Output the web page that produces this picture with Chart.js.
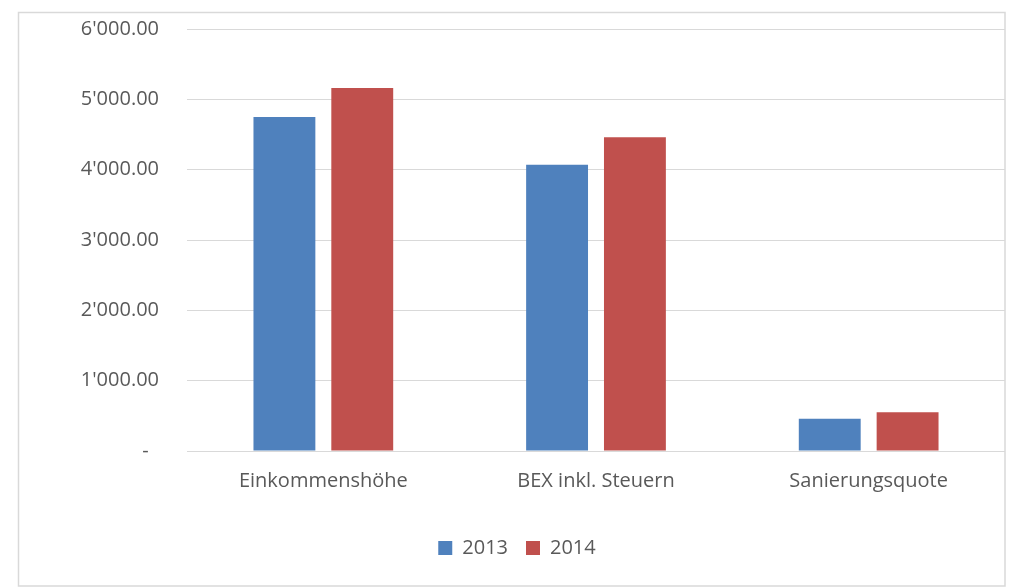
<!DOCTYPE html>
<html>
<head>
<meta charset="utf-8">
<script src="https://cdn.jsdelivr.net/npm/chart.js@4/dist/chart.umd.min.js"></script>
<style>
  html, body { margin: 0; padding: 0; background: #fff; }
  #wrap { width: 1023px; height: 588px; }
</style>
</head>
<body>
<div id="wrap"><canvas id="grafica" width="1023" height="588"></canvas></div>
<script>
// Kategorien und Werte
const kategorien = ['Einkommenshöhe', 'BEX inkl. Steuern', 'Sanierungsquote'];
const werte2013 = [4750, 4070, 460];
const werte2014 = [5160, 4460, 550];
const yTicks = [0, 1000, 2000, 3000, 4000, 5000, 6000];

const textFarbe = '#595959';
const schrift = { family: "'Open Sans', sans-serif", size: 20 };

// Rahmen um das ganze Diagramm
const rahmen = {
  id: 'rahmen',
  beforeDraw(chart) {
    const ctx = chart.ctx;
    ctx.save();
    ctx.fillStyle = '#fff';
    ctx.fillRect(0, 0, chart.width, chart.height);
    ctx.strokeStyle = '#d9d9d9';
    ctx.lineWidth = 1.5;
    ctx.strokeRect(18.5, 12.5, 986.5, 573.5);
    ctx.restore();
  }
};

const formatZahl = (v) => {
  if (v === 0) return '-  ';
  const s = v.toFixed(2);
  const [ganz, dez] = s.split('.');
  return ganz.replace(/\B(?=(\d{3})+(?!\d))/g, "'") + '.' + dez;
};

new Chart(document.getElementById('grafica'), {
  type: 'bar',
  data: {
    labels: kategorien,
    datasets: [
      { label: '2013', data: werte2013, backgroundColor: '#4F81BD' },
      { label: '2014', data: werte2014, backgroundColor: '#C0504D' }
    ]
  },
  options: {
    responsive: false,
    animation: false,
    devicePixelRatio: 1,
    layout: { padding: { top: 29, right: 18, bottom: 20, left: 29 } },
    datasets: {
      bar: { categoryPercentage: 0.571, barPercentage: 0.795 }
    },
    scales: {
      x: {
        grid: { display: false },
        border: { display: false },
        ticks: { color: textFarbe, font: schrift, padding: 10, maxRotation: 0 },
        afterFit(scale) { scale.height = 69; }
      },
      y: {
        min: 0,
        max: 6000,
        afterBuildTicks(scale) { scale.ticks = yTicks.map(v => ({ value: v })); },
        grid: { color: '#d9d9d9', lineWidth: 1, drawTicks: false },
        border: { display: false },
        ticks: { color: textFarbe, font: schrift, padding: 28, callback: formatZahl },
        afterFit(scale) {
          scale.width = 158;
          scale.paddingTop = 0;
          scale.paddingBottom = 0;
        }
      }
    },
    plugins: {
      legend: {
        position: 'bottom',
        labels: { color: textFarbe, font: schrift, boxWidth: 14, boxHeight: 14, padding: 18 }
      },
      tooltip: { enabled: false }
    }
  },
  plugins: [rahmen]
});
</script>
</body>
</html>
